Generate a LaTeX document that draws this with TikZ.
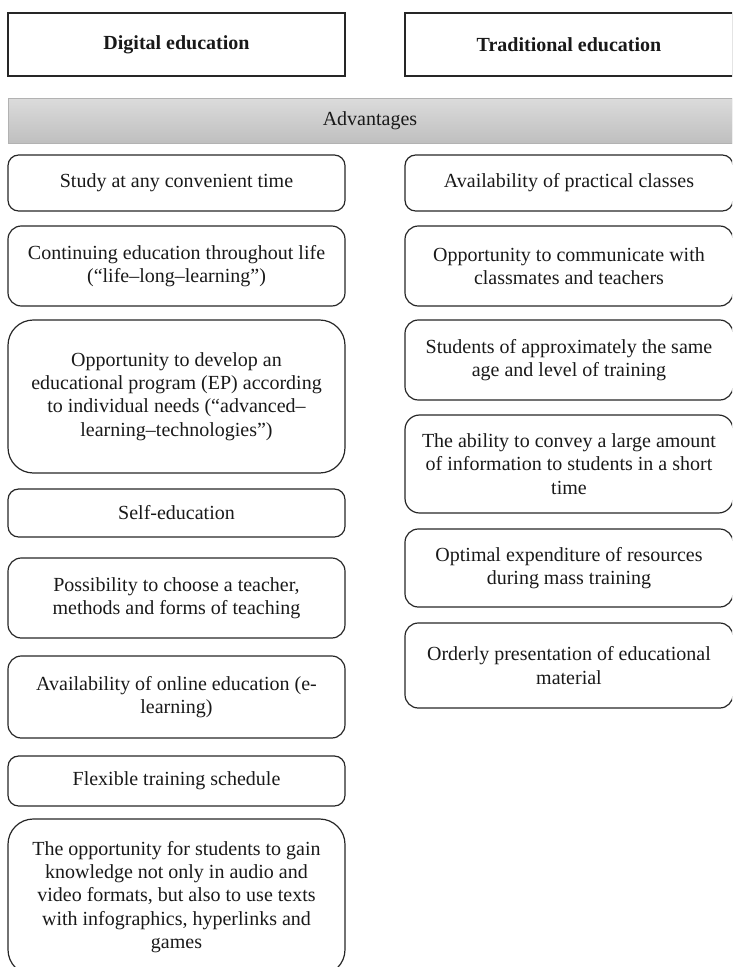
\documentclass[tikz,border=0pt]{standalone}
\usepackage{fontspec}
\setmainfont{Liberation Serif}
\begin{document}
\begin{tikzpicture}[x=0.75pt,y=-0.75pt,
  base/.style={draw=black!85, line width=0.9pt, align=center, inner sep=0pt,
    font=\fontsize{15pt}{17.5pt}\selectfont, text=black!90},
  lbox/.style={base, rounded corners=#1, minimum width=252.75pt},
  rbox/.style={base, rounded corners=#1, minimum width=246pt},
  head/.style={base, font=\fontsize{15pt}{17.5pt}\selectfont\bfseries, minimum height=47.25pt},
  band/.style={draw=black!30, line width=0.6pt, top color=black!14, bottom color=black!25,
    minimum width=543pt, minimum height=33.75pt, inner sep=0pt,
    font=\fontsize{15pt}{17.5pt}\selectfont, text=black!90}]
\useasboundingbox (0,0) rectangle (732,967);
\clip (0,0) rectangle (732,967);

% headers
\node[head, minimum width=252.75pt] (dig) at (176.5,44.5) {Digital education};
\node[head, minimum width=246pt] (trad) at (569,44.5) {Traditional education};

% advantages band
\node[band] (adv) at (370,120.5) {Advantages};

% left column
\node[lbox=8pt, minimum height=42pt] (l1) at (176.5,183) {Study at any convenient time};
\node[lbox=10pt, minimum height=60pt] (l2) at (176.5,266) {Continuing education throughout life\\(“life–long–learning”)};
\node[lbox=19pt, minimum height=114.75pt] (l3) at (176.5,396.5) {Opportunity to develop an\\educational program (EP) according\\to individual needs (“advanced–\\learning–technologies”)};
\node[lbox=8pt, minimum height=36pt] (l4) at (176.5,513) {Self-education};
\node[lbox=10pt, minimum height=60pt] (l5) at (176.5,598) {Possibility to choose a teacher,\\methods and forms of teaching};
\node[lbox=10pt, minimum height=61.5pt] (l6) at (176.5,697) {Availability of online education (e-\\learning)};
\node[lbox=8pt, minimum height=37.5pt] (l7) at (176.5,781) {Flexible training schedule};
\node[lbox=19pt, minimum height=117pt] (l8) at (176.5,897) {The opportunity for students to gain\\knowledge not only in audio and\\video formats, but also to use texts\\with infographics, hyperlinks and\\games};

% right column
\node[rbox=8pt, minimum height=42pt] (r1) at (569,183) {Availability of practical classes};
\node[rbox=10pt, minimum height=60pt] (r2) at (569,266) {Opportunity to communicate with\\classmates and teachers};
\node[rbox=10pt, minimum height=60pt] (r3) at (569,360) {Students of approximately the same\\age and level of training};
\node[rbox=11pt, minimum height=73.5pt] (r4) at (569,464) {The ability to convey a large amount\\of information to students in a short\\time};
\node[rbox=10pt, minimum height=58.5pt] (r5) at (569,568) {Optimal expenditure of resources\\during mass training};
\node[rbox=10pt, minimum height=63.75pt] (r6) at (569,665.5) {Orderly presentation of educational\\material};
\end{tikzpicture}
\end{document}
